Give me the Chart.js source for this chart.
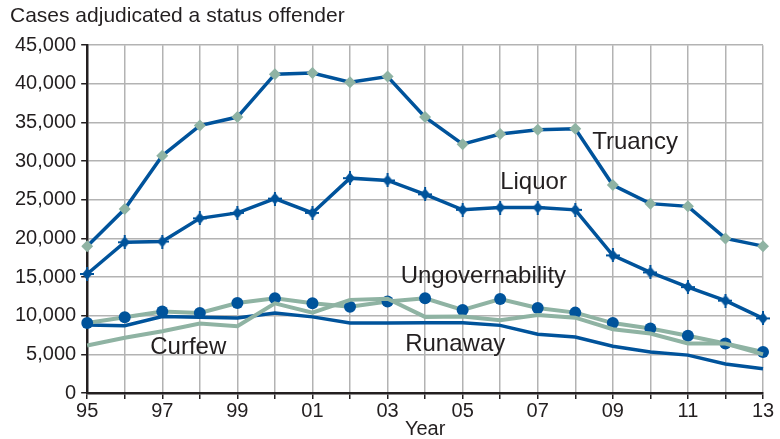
<!DOCTYPE html>
<html>
<head>
<meta charset="utf-8">
<script src="https://cdn.jsdelivr.net/npm/chart.js@4"></script>
<style>
  html, body { margin: 0; padding: 0; background: #fff; }
  #wrap { width: 780px; height: 439px; }
</style>
</head>
<body>
<div id="wrap"><canvas id="statusChart"></canvas></div>
<script>
const years = ['95','96','97','98','99','00','01','02','03','04','05','06','07','08','09','10','11','12','13'];

const truancy = [19000, 23800, 30700, 34600, 35700, 41250, 41400, 40200, 40950, 35700, 32200, 33500, 34050, 34200, 26900, 24500, 24150, 20000, 19000];
const liquor = [15400, 19500, 19600, 22600, 23300, 25150, 23300, 27800, 27500, 25700, 23700, 24000, 24000, 23700, 17800, 15600, 13700, 11950, 9650];
const ungovernability = [9050, 9800, 10550, 10350, 11650, 12250, 11600, 11150, 11850, 12250, 10750, 12150, 11000, 10400, 9050, 8350, 7400, 6400, 5300];
const curfew = [6150, 7150, 8000, 9000, 8650, 11600, 10400, 12050, 12200, 9850, 9900, 9400, 10100, 9750, 8250, 7700, 6400, 6400, 5000];
const runaway = [8800, 8700, 9900, 9800, 9700, 10350, 9850, 9050, 9050, 9100, 9100, 8750, 7600, 7250, 6050, 5300, 4900, 3750, 3150];

// label text and where it sits (year index, value)
const lineLabels = [
  { text: 'Truancy', x: 13.45, y: 32450 },
  { text: 'Liquor', x: 11.0, y: 27200 },
  { text: 'Ungovernability', x: 8.35, y: 15050 },
  { text: 'Curfew', x: 1.68, y: 5900 },
  { text: 'Runaway', x: 8.47, y: 6300 }
];

const blue = '#00539b';
const green = '#8fb3a3';

// diamond with small cross arms for the liquor markers
function crossDiamond() {
  const c = document.createElement('canvas');
  c.width = 14; c.height = 14;
  const g = c.getContext('2d');
  g.fillStyle = blue;
  g.beginPath();
  g.moveTo(7, 1); g.lineTo(12, 7); g.lineTo(7, 13); g.lineTo(2, 7);
  g.closePath();
  g.fill();
  g.fillRect(6, 0, 2, 14);
  g.fillRect(0, 6, 14, 2);
  return c;
}

const labelPlugin = {
  id: 'lineLabels',
  afterDatasetsDraw(chart) {
    const ctx = chart.ctx;
    const xs = chart.scales.x, ys = chart.scales.y;
    ctx.save();
    ctx.font = '24px "Liberation Sans", Arial, sans-serif';
    ctx.fillStyle = '#231f20';
    ctx.textBaseline = 'middle';
    ctx.textAlign = 'left';
    lineLabels.forEach(l => {
      ctx.fillText(l.text, xs.getPixelForValue(l.x), ys.getPixelForValue(l.y));
    });
    ctx.restore();
  }
};

Chart.defaults.font.family = '"Liberation Sans", Arial, sans-serif';
Chart.defaults.color = '#231f20';

new Chart(document.getElementById('statusChart'), {
  type: 'line',
  data: {
    labels: years,
    datasets: [
      { label: 'Curfew', data: curfew, borderColor: green, borderWidth: 4, pointRadius: 0, tension: 0 },
      { label: 'Ungovernability', data: ungovernability, borderColor: green, borderWidth: 4,
        pointRadius: 6, pointBackgroundColor: blue, pointBorderWidth: 0 },
      { label: 'Runaway', data: runaway, borderColor: blue, borderWidth: 3.5, pointRadius: 0 },
      { label: 'Liquor', data: liquor, borderColor: blue, borderWidth: 3.5,
        pointStyle: crossDiamond(), pointRadius: 7 },
      { label: 'Truancy', data: truancy, borderColor: blue, borderWidth: 3.5,
        pointStyle: 'rectRot', pointRadius: 6, pointBackgroundColor: green, pointBorderWidth: 0 }
    ]
  },
  options: {
    responsive: true,
    maintainAspectRatio: false,
    animation: false,
    layout: { padding: { left: 10, right: 17, top: 0, bottom: 0 } },
    plugins: {
      legend: { display: false },
      tooltip: { enabled: false },
      title: {
        display: true,
        text: 'Cases adjudicated a status offender',
        align: 'start',
        font: { size: 21, weight: 'normal' },
        color: '#231f20',
        padding: { top: 4, bottom: 16 }
      }
    },
    scales: {
      x: {
        offset: false,
        grid: { color: '#b3b3b3', lineWidth: 1.5, tickLength: 6, tickColor: '#231f20' },
        border: { color: '#231f20', width: 2.5 },
        ticks: {
          autoSkip: false, maxRotation: 0, padding: 0,
          font: { size: 20 },
          callback: function(v, i) { return i % 2 === 0 ? years[i] : ''; }
        },
        title: { display: true, text: 'Year', font: { size: 20 }, padding: { top: -6, bottom: -2 } }
      },
      y: {
        min: 0, max: 45000,
        grid: { color: '#b3b3b3', lineWidth: 1.5, tickLength: 6, tickColor: '#231f20' },
        border: { color: '#231f20', width: 2.5 },
        ticks: { stepSize: 5000, padding: 5, font: { size: 20 } }
      }
    }
  },
  plugins: [labelPlugin]
});
</script>
</body>
</html>
